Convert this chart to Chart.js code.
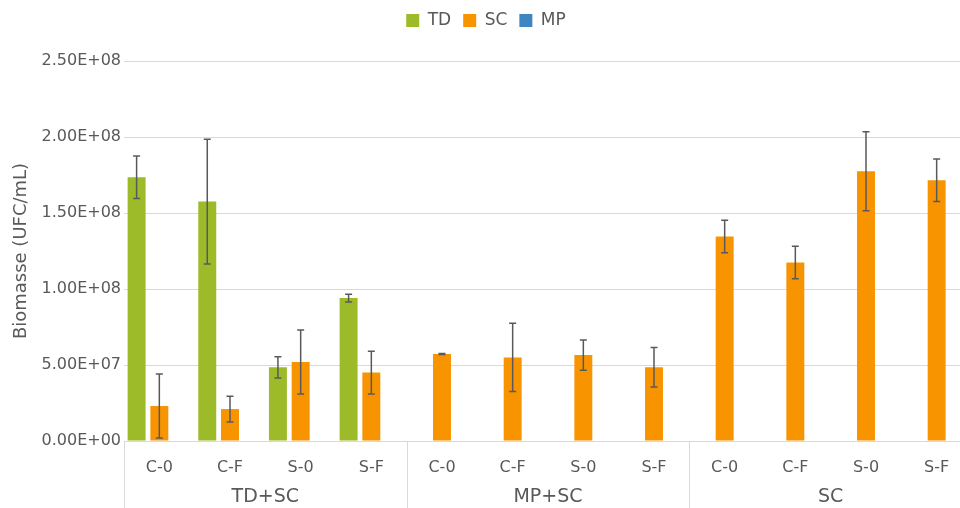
<!DOCTYPE html>
<html>
<head>
<meta charset="utf-8">
<script src="https://cdn.jsdelivr.net/npm/chart.js@4"></script>
<style>
  html, body { margin: 0; padding: 0; background: #fff; overflow: hidden; }
  #wrap { width: 972px; height: 508px; }
</style>
</head>
<body>
<div id="wrap"><canvas id="biomasseChart" width="972" height="508"></canvas></div>
<script>
// sub categories, repeated in each group
const subLabels = ['C-0', 'C-F', 'S-0', 'S-F', 'C-0', 'C-F', 'S-0', 'S-F', 'C-0', 'C-F', 'S-0', 'S-F'];
const groupLabels = ['TD+SC', 'MP+SC', 'SC'];

// values (UFC/mL)
const tdValues = [1.735e8, 1.575e8, 4.85e7, 9.4e7, null, null, null, null, null, null, null, null];
const tdErrors = [1.4e7, 4.1e7, 0.7e7, 0.25e7, null, null, null, null, null, null, null, null];
const scValues = [2.3e7, 2.1e7, 5.2e7, 4.5e7, 5.72e7, 5.5e7, 5.65e7, 4.85e7, 1.345e8, 1.175e8, 1.775e8, 1.715e8];
const scErrors = [2.1e7, 0.85e7, 2.1e7, 1.4e7, 0.03e7, 2.25e7, 1.0e7, 1.3e7, 1.07e7, 1.07e7, 2.6e7, 1.4e7];
const mpValues = [null, null, null, null, null, null, null, null, null, null, null, null];

const yTicks = [0, 5e7, 1e8, 1.5e8, 2e8, 2.5e8];

function sciLabel(v) {
    const parts = v.toExponential(2).split('e');
    const e = parseInt(parts[1], 10);
    return parts[0] + 'E' + (e < 0 ? '-' : '+') + String(Math.abs(e)).padStart(2, '0');
}

Chart.defaults.font.family = '"DejaVu Sans", Verdana, sans-serif';
Chart.defaults.color = '#595959';

// error bars drawn on top of the bars
const errorBars = {
    id: 'errorBars',
    afterDatasetsDraw(chart) {
        const ctx = chart.ctx;
        const y = chart.scales.y;
        chart.data.datasets.forEach((ds, di) => {
            if (!ds.errors) return;
            const meta = chart.getDatasetMeta(di);
            meta.data.forEach((bar, i) => {
                const v = ds.data[i], err = ds.errors[i];
                if (v == null || err == null) return;
                const top = y.getPixelForValue(v + err);
                const bottom = y.getPixelForValue(v - err);
                ctx.save();
                ctx.strokeStyle = '#595959';
                ctx.lineWidth = 1.5;
                ctx.beginPath();
                ctx.moveTo(bar.x, top); ctx.lineTo(bar.x, bottom);
                ctx.moveTo(bar.x - 3.5, top); ctx.lineTo(bar.x + 3.5, top);
                ctx.moveTo(bar.x - 3.5, bottom); ctx.lineTo(bar.x + 3.5, bottom);
                ctx.stroke();
                ctx.restore();
            });
        });
    }
};

// vertical separators between the category groups
const groupLines = {
    id: 'groupLines',
    afterDraw(chart) {
        const ctx = chart.ctx;
        const x = chart.scales.x;
        const step = (x.right - x.left) / subLabels.length;
        ctx.save();
        ctx.strokeStyle = '#d9d9d9';
        ctx.lineWidth = 1;
        for (let k = 0; k <= groupLabels.length; k++) {
            const px = Math.round(x.left + k * 4 * step) + 0.5;
            ctx.beginPath();
            ctx.moveTo(px, x.top);
            ctx.lineTo(px, chart.height);
            ctx.stroke();
        }
        ctx.restore();
    }
};

// fixed height for the legend block
const legendHeight = {
    id: 'legendHeight',
    beforeInit(chart) {
        const fit = chart.legend.fit;
        chart.legend.fit = function () {
            fit.bind(chart.legend)();
            this.height = 61;
        };
    }
};

const ctx = document.getElementById('biomasseChart').getContext('2d');
const biomasseChart = new Chart(ctx, {
    type: 'bar',
    data: {
        labels: subLabels,
        datasets: [
            { label: 'TD', data: tdValues, errors: tdErrors, backgroundColor: '#9dba29' },
            { label: 'SC', data: scValues, errors: scErrors, backgroundColor: '#f79400' },
            { label: 'MP', data: mpValues, backgroundColor: '#3d86c1' }
        ]
    },
    options: {
        responsive: false,
        animation: false,
        datasets: {
            bar: { categoryPercentage: 0.965, barPercentage: 0.79 }
        },
        layout: { padding: { left: 0, right: 0, top: 0, bottom: 0 } },
        plugins: {
            legend: {
                position: 'top',
                labels: {
                    boxWidth: 13,
                    boxHeight: 13,
                    padding: 12,
                    font: { size: 17 },
                    color: '#595959'
                }
            },
            tooltip: { enabled: false }
        },
        scales: {
            x: {
                grid: { display: false },
                border: { display: true, color: '#d9d9d9' },
                ticks: { padding: 9, font: { size: 16 }, maxRotation: 0, autoSkip: false },
                afterFit(scale) { scale.height = 36; }
            },
            group: {
                type: 'category',
                position: 'bottom',
                labels: groupLabels,
                offset: true,
                weight: 1,
                grid: { display: false },
                border: { display: false },
                ticks: { padding: 1, font: { size: 19 }, maxRotation: 0 },
                afterFit(scale) { scale.height = 31; }
            },
            y: {
                min: 0,
                max: 2.5e8,
                afterBuildTicks(scale) { scale.ticks = yTicks.map(v => ({ value: v })); },
                grid: { color: '#d9d9d9', drawTicks: false },
                border: { display: false },
                ticks: { padding: 3, font: { size: 16 }, callback: v => sciLabel(v) },
                title: {
                    display: true,
                    text: 'Biomasse (UFC/mL)',
                    font: { size: 18 },
                    color: '#595959',
                    padding: { top: 11, bottom: 0 }
                },
                afterFit(scale) { scale.width = 124; }
            }
        }
    },
    plugins: [errorBars, groupLines, legendHeight]
});
</script>
</body>
</html>
